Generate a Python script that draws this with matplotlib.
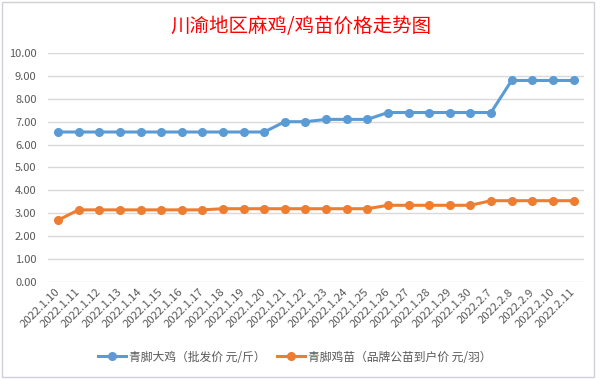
import matplotlib
matplotlib.use("Agg")
import matplotlib.pyplot as plt
from matplotlib.patches import Rectangle

plt.rcParams['font.family'] = ['Noto Sans CJK SC', 'DejaVu Sans']

dates = ['2022.1.10', '2022.1.11', '2022.1.12', '2022.1.13', '2022.1.14', '2022.1.15',
         '2022.1.16', '2022.1.17', '2022.1.18', '2022.1.19', '2022.1.20', '2022.1.21',
         '2022.1.22', '2022.1.23', '2022.1.24', '2022.1.25', '2022.1.26', '2022.1.27',
         '2022.1.28', '2022.1.29', '2022.1.30', '2022.2.7', '2022.2.8', '2022.2.9',
         '2022.2.10', '2022.2.11']
big_chicken = [6.55, 6.55, 6.55, 6.55, 6.55, 6.55, 6.55, 6.55, 6.55, 6.55, 6.55, 7.0,
               7.0, 7.1, 7.1, 7.1, 7.4, 7.4, 7.4, 7.4, 7.4, 7.4, 8.8, 8.8, 8.8, 8.8]
chick = [2.7, 3.15, 3.15, 3.15, 3.15, 3.15, 3.15, 3.15, 3.2, 3.2, 3.2, 3.2,
         3.2, 3.2, 3.2, 3.2, 3.35, 3.35, 3.35, 3.35, 3.35, 3.55, 3.55, 3.55, 3.55, 3.55]
series_names = ['青脚大鸡（批发价 元/斤）', '青脚鸡苗（品牌公苗到户价 元/羽）']

blue = '#5B9BD5'
orange = '#ED7D31'
grey_text = '#595959'
grid_col = '#D9D9D9'

fig = plt.figure(figsize=(6.01, 3.79), dpi=100)
ax = fig.add_axes([0.0794, 0.2559, 0.892, 0.6043])

x = list(range(len(dates)))
ax.plot(x, big_chicken, color=blue, lw=2.2, marker='o', ms=5.5, label=series_names[0])
ax.plot(x, chick, color=orange, lw=2.2, marker='o', ms=5.5, label=series_names[1])

ax.set_xlim(-0.5, len(dates) - 0.5)
ax.set_ylim(0, 10)
ax.set_yticks(range(0, 11))
ax.set_yticklabels([f'{v:.2f}' for v in range(0, 11)], fontsize=8, color=grey_text)
ax.set_xticks(x)
ax.set_xticklabels(dates, rotation=45, ha='right', va='center', rotation_mode='anchor',
                   fontsize=8.2, color=grey_text)
ax.tick_params(axis='both', length=0)
ax.tick_params(axis='y', pad=8)
ax.tick_params(axis='x', pad=6)
ax.grid(axis='y', color=grid_col, lw=1)
ax.set_axisbelow(True)
for s in ax.spines.values():
    s.set_visible(False)

fig.text(0.5, 0.931, '川渝地区麻鸡/鸡苗价格走势图', color='#FF0000', fontsize=14,
         ha='center', va='center')

fig.legend(loc='center', bbox_to_anchor=(0.491, 0.058), ncol=2, frameon=False,
           fontsize=8.5, labelcolor=grey_text, handlelength=2.3, columnspacing=1.0,
           handletextpad=0.3)

# chart border
fig.patches.append(Rectangle((2 / 601, 2 / 379), 592 / 601, 375 / 379,
                             transform=fig.transFigure, fill=False,
                             edgecolor='#D0D0D8', lw=1))

fig.savefig('out.png', dpi=100)
